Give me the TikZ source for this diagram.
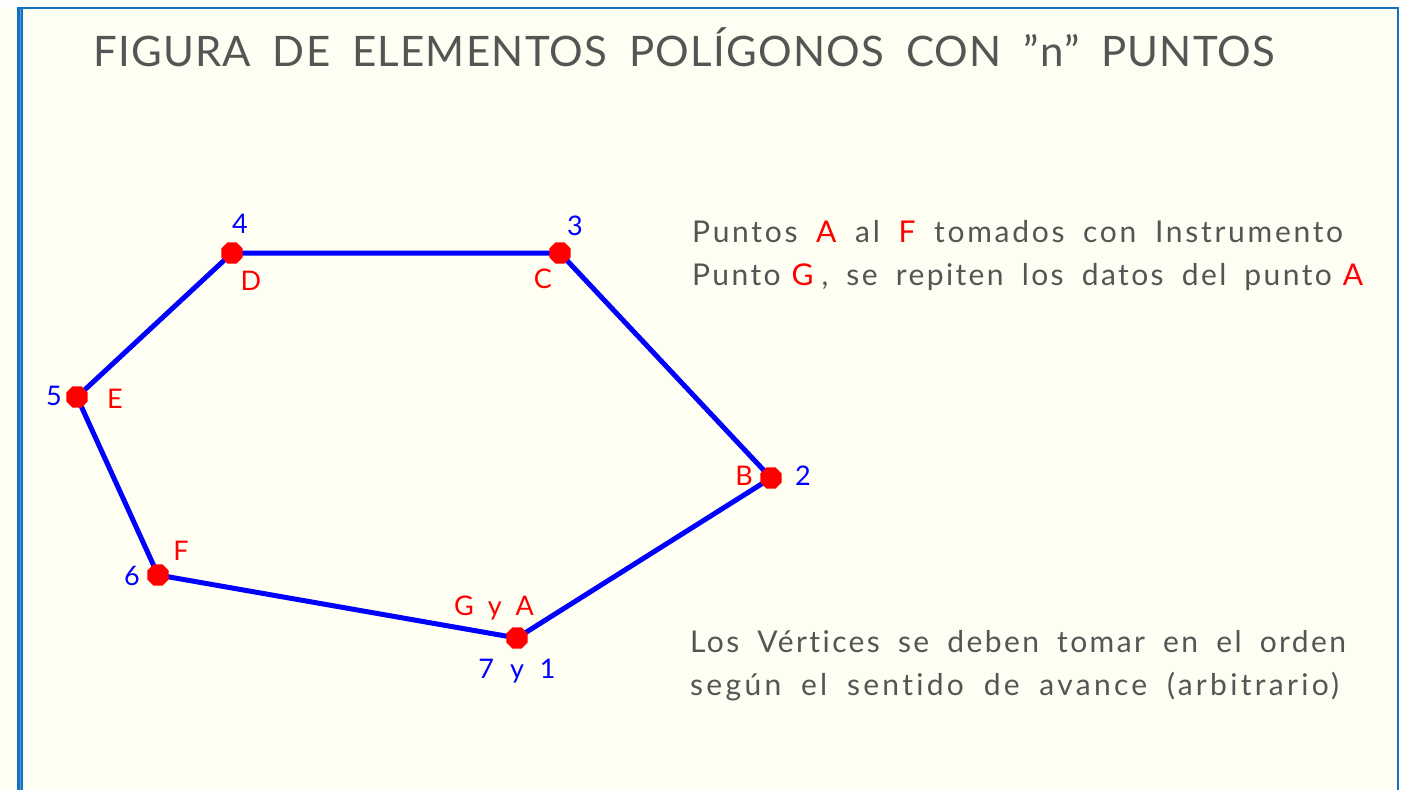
\documentclass[tikz,border=0pt]{standalone}
\usepackage{fontspec}
\setmainfont{Lato}
\newfontfamily\titlefont[LetterSpace=3,WordSpace=1.8,Ligatures=NoCommon]{Lato}
\newfontfamily\notefontA[LetterSpace=9,WordSpace=1.8,Ligatures=NoCommon]{Lato}
\newfontfamily\notefontB[LetterSpace=8,WordSpace=1.8,Ligatures=NoCommon]{Lato}
\newfontfamily\notefontD[LetterSpace=11,WordSpace=1.8,Ligatures=NoCommon]{Lato}
\newfontfamily\labfont{Lato}
\usetikzlibrary{shapes.geometric}
\definecolor{bg}{HTML}{FEFEF2}
\definecolor{framec}{HTML}{1272C2}
\definecolor{txt}{HTML}{555555}
\definecolor{pblue}{HTML}{0000FF}
\definecolor{pred}{HTML}{FF0000}
\tikzset{
  poly/.style={pblue, line width=5pt, line join=round},
  dot/.style={regular polygon, regular polygon sides=8, fill=pred, draw=none, minimum size=23pt, inner sep=0pt},
  numlab/.style={pblue, font=\labfont\fontsize{27}{27}\selectfont, anchor=base, inner sep=0pt},
  letlab/.style={pred, font=\labfont\fontsize{27}{27}\selectfont, anchor=base, inner sep=0pt},
  note/.style={txt, anchor=base west, inner sep=0pt},
  titlestyle/.style={txt, font=\titlefont\fontsize{42}{42}\selectfont, anchor=base, inner sep=0pt}
}
\begin{document}
\begin{tikzpicture}[x=1pt,y=-1pt]
\useasboundingbox (0,0) rectangle (1408,790);
\fill[white] (0,0) rectangle (1408,790);
\fill[bg] (0,7) rectangle (1397,790);
% frame
\draw[framec, line width=2.5pt] (17,8) -- (1399,8);
\fill[framec] (17,8) rectangle (23,790);
\draw[framec!70, line width=1pt] (20,9) -- (20,790);
\draw[framec, line width=2.5pt] (1398,7) -- (1398,790);
% title
\node[titlestyle] (title) at (684,66) {FIGURA DE ELEMENTOS POLÍGONOS CON \textquotedblright n\textquotedblright\ PUNTOS};
% vertices
\coordinate (pA) at (517,638);
\coordinate (pB) at (771,478);
\coordinate (pC) at (560,253);
\coordinate (pD) at (232,253);
\coordinate (pE) at (77,397);
\coordinate (pF) at (158,575);
\draw[poly] (pA) -- (pB) -- (pC) -- (pD) -- (pE) -- (pF) -- cycle;
\node[dot] (dA) at (pA) {};
\node[dot] (dB) at (pB) {};
\node[dot] (dC) at (pC) {};
\node[dot] (dD) at (pD) {};
\node[dot] (dE) at (pE) {};
\node[dot] (dF) at (pF) {};
% labels
\node[numlab] (n4) at (240,233) {4};
\node[letlab] (lD) at (251,290) {D};
\node[numlab] (n5) at (54,405) {5};
\node[letlab] (lE) at (115,408) {E};
\node[numlab] (n3) at (575,235) {3};
\node[letlab] (lC) at (543,288) {C};
\node[letlab] (lB) at (744,485) {B};
\node[numlab] (n2) at (803,485) {2};
\node[letlab] (lF) at (181,560) {F};
\node[numlab] (n6) at (132,585) {6};
\node[letlab] (lGA) at (494,615) {G\hspace{14pt}y\hspace{14pt}A};
\node[numlab] (n71) at (517,678) {7\hspace{16pt}y\hspace{16pt}1};
% notes
\node[note, font=\notefontA\fontsize{30}{30}\selectfont] (t1) at (692,242) {Puntos \textcolor{pred}{A} al \textcolor{pred}{F} tomados con Instrumento};
\node[note, font=\notefontB\fontsize{30}{30}\selectfont] (t2) at (692,285) {Punto\hspace{11pt}\textcolor{pred}{G}\hspace{8pt}, se repiten los datos del punto\hspace{11pt}\textcolor{pred}{A}};
\node[note, font=\notefontB\fontsize{30}{30}\selectfont] (t3) at (690,652) {Los Vértices se deben tomar en el orden};
\node[note, font=\notefontD\fontsize{30}{30}\selectfont] (t4) at (690,695) {según el sentido de avance (arbitrario)};
\end{tikzpicture}
\end{document}
